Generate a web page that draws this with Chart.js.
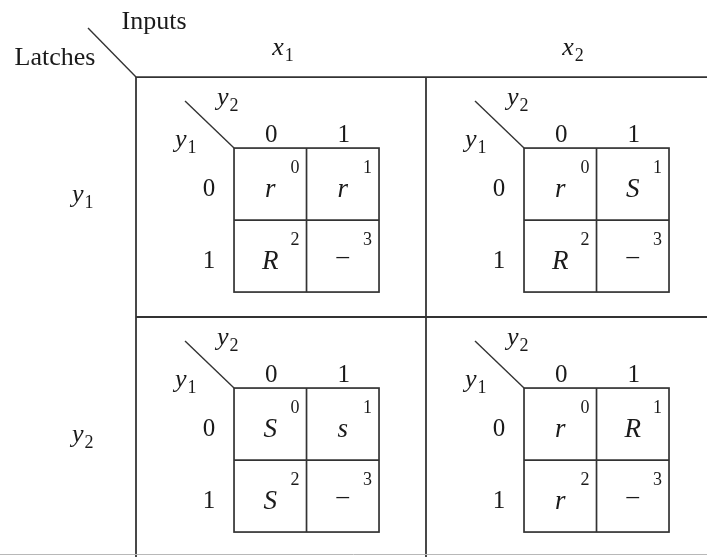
<!DOCTYPE html>
<html>
<head>
<meta charset="utf-8">
<script src="https://cdn.jsdelivr.net/npm/chart.js@4.4.1/dist/chart.umd.min.js"></script>
<style>
  body { margin: 0; background: #fff; }
  canvas { display: block; }
</style>
</head>
<body>
<canvas id="kmap_canvas" width="707" height="557"></canvas>
<script>
// subscripts of the input columns (x1, x2) and latch rows (y1, y2)
var inputs = ['1', '2'];
var latches = ['1', '2'];
// values of y2 (columns) and y1 (rows) inside each small map
var subCols = ['0', '1'];
var subRows = ['0', '1'];
// small map entries, cells 0..3
var mapX1Y1 = ['r', 'r', 'R', '\u2013'];
var mapX2Y1 = ['r', 'S', 'R', '\u2013'];
var mapX1Y2 = ['S', 's', 'S', '\u2013'];
var mapX2Y2 = ['r', 'R', 'r', '\u2013'];
var cellIndex = ['0', '1', '2', '3'];

// axis ranges : one unit = one big cell
var X_MIN = -0.469, X_MAX = 1.969;
var Y_MIN = -0.321, Y_MAX = 2.0;
// small map placement inside a big cell
var SUB_X0 = 0.338, SUB_Y0 = 0.296;
var CELL_W = 0.25, CELL_H = 0.3;

var SERIF = '"Liberation Serif", "DejaVu Serif", serif';
var INK = '#1a1a1a';
var LINE = '#333333';

var maps = [[mapX1Y1, mapX2Y1], [mapX1Y2, mapX2Y2]];
var points = [];
for (var r = 0; r < latches.length; r++) {
	for (var c = 0; c < inputs.length; c++) {
		for (var k = 0; k < 4; k++) {
			var sr = k >> 1, sc = k & 1;
			points.push({
				x: c + SUB_X0 + (sc + 0.5) * CELL_W,
				y: r + SUB_Y0 + (sr + 0.5) * CELL_H,
				v: maps[r][c][k],
				idx: cellIndex[k]
			});
		}
	}
}

// italic letter with an upright subscript
function drawSub(ctx, base, sub, x, y, size, align) {
	ctx.font = 'italic ' + size + 'px ' + SERIF;
	var wb = ctx.measureText(base).width;
	ctx.font = Math.round(size * 0.7) + 'px ' + SERIF;
	var ws = ctx.measureText(sub).width;
	var w = wb + ws + 1;
	var left = x;
	if (align === 'center') left = x - w / 2;
	ctx.textAlign = 'left';
	ctx.textBaseline = 'alphabetic';
	ctx.font = 'italic ' + size + 'px ' + SERIF;
	ctx.fillText(base, left, y);
	ctx.font = Math.round(size * 0.7) + 'px ' + SERIF;
	ctx.fillText(sub, left + wb + 1, y + size * 0.22);
}

function line(ctx, x1, y1, x2, y2) {
	ctx.beginPath();
	ctx.moveTo(x1, y1);
	ctx.lineTo(x2, y2);
	ctx.stroke();
}

var kmapPlugin = {
	id: 'kmap',
	afterDatasetsDraw: function(chart) {
		var ctx = chart.ctx;
		var xs = chart.scales.x, ys = chart.scales.y;
		var px = function(v) { return xs.getPixelForValue(v); };
		var py = function(v) { return ys.getPixelForValue(v); };
		ctx.save();
		ctx.strokeStyle = LINE;
		ctx.fillStyle = INK;

		// outer table
		var ox = px(0), oy = py(0);
		ctx.lineWidth = 1.8;
		line(ctx, ox, oy, chart.width, oy);
		line(ctx, ox, py(1), chart.width, py(1));
		line(ctx, ox, oy, ox, chart.height);
		line(ctx, px(1), oy, px(1), chart.height);
		ctx.lineWidth = 1.4;
		line(ctx, ox - 48, oy - 49, ox, oy);
		ctx.strokeStyle = '#b8b8b8';
		ctx.lineWidth = 1;
		line(ctx, 0, py(2) - 2.5, chart.width, py(2) - 2.5);
		ctx.strokeStyle = LINE;

		ctx.font = '26px ' + SERIF;
		ctx.textAlign = 'center';
		ctx.textBaseline = 'alphabetic';
		ctx.fillText('Inputs', ox + 18, oy - 48);
		ctx.fillText('Latches', ox - 81, oy - 12);

		for (var c = 0; c < inputs.length; c++) {
			drawSub(ctx, 'x', inputs[c], (px(c) + px(c + 1)) / 2 + 2, oy - 22, 26, 'center');
		}
		for (var r = 0; r < latches.length; r++) {
			drawSub(ctx, 'y', latches[r], ox - 64, (py(r) + py(r + 1)) / 2 + 5, 26, 'left');
		}

		// small maps
		for (r = 0; r < latches.length; r++) {
			for (c = 0; c < inputs.length; c++) {
				var L = px(c + SUB_X0), T = py(r + SUB_Y0);
				var R = px(c + SUB_X0 + 2 * CELL_W), B = py(r + SUB_Y0 + 2 * CELL_H);
				var MX = px(c + SUB_X0 + CELL_W), MY = py(r + SUB_Y0 + CELL_H);
				ctx.lineWidth = 1.7;
				ctx.strokeRect(L, T, R - L, B - T);
				line(ctx, MX, T, MX, B);
				line(ctx, L, MY, R, MY);
				ctx.lineWidth = 1.4;
				line(ctx, L - 49, T - 47, L, T);

				drawSub(ctx, 'y', '2', L - 17, T - 43, 26, 'left');
				drawSub(ctx, 'y', '1', L - 59, T - 1, 26, 'left');

				ctx.font = '25px ' + SERIF;
				ctx.textAlign = 'center';
				ctx.textBaseline = 'alphabetic';
				for (var j = 0; j < subCols.length; j++) {
					ctx.fillText(subCols[j], (j === 0 ? (L + MX) / 2 : (MX + R) / 2) + 1, T - 6);
				}
				for (j = 0; j < subRows.length; j++) {
					ctx.fillText(subRows[j], L - 25, (j === 0 ? (T + MY) / 2 : (MY + B) / 2) + 12);
				}
			}
		}

		// cell entries from the dataset points
		var meta = chart.getDatasetMeta(0);
		var halfW = (px(CELL_W) - px(0)) / 2;
		var halfH = (py(CELL_H) - py(0)) / 2;
		meta.data.forEach(function(el, i) {
			var p = points[i];
			ctx.textAlign = 'center';
			ctx.textBaseline = 'alphabetic';
			if (p.v === '\u2013') {
				ctx.font = '25px ' + SERIF;
				ctx.fillText(p.v, el.x, el.y + 8);
			} else {
				ctx.font = 'italic 27px ' + SERIF;
				ctx.fillText(p.v, el.x, el.y + 13);
			}
			ctx.font = '18px ' + SERIF;
			ctx.textAlign = 'right';
			ctx.fillText(p.idx, el.x + halfW - 7, el.y - halfH + 25);
		});
		ctx.restore();
	}
};

var kmapChart = new Chart(document.getElementById('kmap_canvas').getContext('2d'), {
	type: 'scatter',
	data: {
		datasets: [{
			data: points,
			pointRadius: 0,
			pointHoverRadius: 0
		}]
	},
	options: {
		responsive: false,
		animation: false,
		events: [],
		layout: { padding: 0 },
		plugins: { legend: { display: false }, tooltip: { enabled: false } },
		scales: {
			x: { type: 'linear', display: false, min: X_MIN, max: X_MAX },
			y: { type: 'linear', display: false, reverse: true, min: Y_MIN, max: Y_MAX }
		}
	},
	plugins: [kmapPlugin]
});
</script>
</body>
</html>
